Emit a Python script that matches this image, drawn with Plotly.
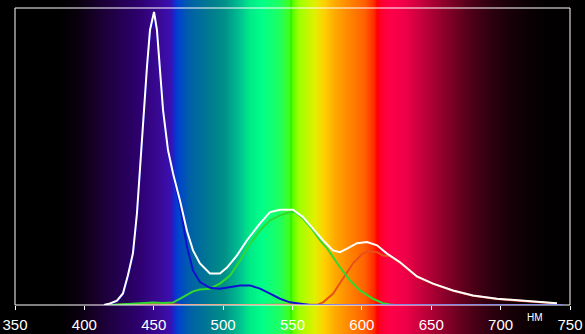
import base64
import struct
import zlib

import plotly.graph_objects as go

# ---------------- data ----------------
white_nm = [414.1, 418.5, 423.5, 427.8, 431.4, 435.0, 437.9, 440.1, 442.3, 445.1, 447.3, 450.2,
            452.3, 454.5, 456.7, 460.3, 463.9, 468.9, 474.0, 478.3, 483.3, 490.5, 497.7, 502.8,
            510.0, 517.2, 526.6, 533.8, 541.0, 550.4, 557.6, 564.8, 572.0, 579.2, 584.2, 589.3,
            596.5, 603.7, 610.9, 618.1, 627.5, 639.7, 651.3, 665.7, 680.1, 697.4, 714.0, 728.4, 740.6]
white_val = [0.000, 0.005, 0.015, 0.039, 0.100, 0.174, 0.309, 0.464, 0.632, 0.801, 0.926, 0.987,
             0.926, 0.801, 0.656, 0.521, 0.443, 0.352, 0.248, 0.184, 0.140, 0.106, 0.106, 0.126,
             0.167, 0.218, 0.275, 0.313, 0.321, 0.321, 0.296, 0.257, 0.218, 0.184, 0.178, 0.190,
             0.208, 0.212, 0.201, 0.173, 0.144, 0.096, 0.072, 0.049, 0.032, 0.021, 0.015, 0.009, 0.006]

blue_nm = [414.1, 418.5, 423.5, 427.8, 431.4, 435.0, 437.9, 440.1, 442.3, 445.1, 447.3, 450.2,
           452.3, 454.5, 456.7, 460.3, 463.9, 468.9, 474.0, 478.3, 483.3, 490.5, 497.7, 505.0,
           512.2, 519.4, 526.6, 533.8, 541.0, 548.2, 555.4, 562.6, 600.0, 650.0, 700.0, 745.0]
blue_val = [0.000, 0.004, 0.012, 0.035, 0.094, 0.167, 0.300, 0.455, 0.622, 0.790, 0.914, 0.975,
            0.914, 0.790, 0.647, 0.512, 0.434, 0.336, 0.195, 0.116, 0.077, 0.058, 0.055, 0.060,
            0.066, 0.066, 0.055, 0.038, 0.021, 0.009, 0.004, 0.000, 0.000, 0.000, 0.000, 0.000]

green_nm = [418.5, 432.9, 443.7, 449.5, 456.7, 463.9, 470.4, 478.3, 483.3, 490.5, 497.7, 505.0,
            512.2, 519.4, 526.6, 533.8, 541.0, 548.2, 551.8, 557.6, 564.8, 569.8, 574.9, 579.2,
            584.2, 591.4, 598.6, 608.0, 615.2, 620.3, 623.9]
green_val = [0.000, 0.003, 0.007, 0.008, 0.007, 0.008, 0.025, 0.046, 0.052, 0.055, 0.072, 0.099,
             0.150, 0.206, 0.251, 0.285, 0.302, 0.313, 0.313, 0.291, 0.251, 0.218, 0.191, 0.160,
             0.127, 0.083, 0.049, 0.021, 0.006, 0.002, 0.000]

red_nm = [418.5, 440.0, 450.0, 459.5, 469.0, 520.0, 568.4, 572.0, 579.2, 586.4, 593.6, 600.8,
          605.9, 610.9, 615.2, 620.0, 627.5, 639.7, 651.3, 665.7, 680.1, 697.4, 714.0, 728.4, 740.6]
red_val = [0.000, 0.003, 0.005, 0.003, 0.001, 0.000, 0.002, 0.009, 0.038, 0.089, 0.140, 0.174,
           0.181, 0.178, 0.167, 0.165, 0.142, 0.095, 0.071, 0.048, 0.031, 0.020, 0.014, 0.008, 0.005]

tick_vals = [350, 400, 450, 500, 550, 600, 650, 700, 750]
tick_text = ["350", "400", "450", "500", "550", "600", "650", "700", "750"]
unit_label = "НМ"

# ---------------- style / layout ----------------
W, H = 585, 334
ML, MR, MT, MB = 15, 15, 8, 29
PW, PH = W - ML - MR, H - MT - MB
X0, X1 = 350, 750

# spectrum background colour stops (wavelength, colour)
stops = [
    (300, "#000000"), (380, "#000000"), (395, "#08000c"), (411, "#1a0030"), (440, "#2e0070"),
    (455, "#3a0a98"), (462, "#3a10b0"), (464, "#2020c8"), (467, "#0040d0"), (476, "#0060a8"),
    (490, "#007a90"), (501, "#009088"), (512, "#00c090"), (519, "#00e888"), (528, "#00ff88"),
    (541, "#20ff60"), (547.5, "#40ff20"), (549, "#30f000"), (550.5, "#60ff00"), (555, "#a0ff00"),
    (566, "#e0f000"), (573, "#ffd000"), (581, "#ffa800"), (588, "#ff9000"), (602, "#ff6000"),
    (609, "#ff2800"), (611, "#ff0000"), (614, "#ff0030"), (620, "#ff0048"), (631, "#f00048"),
    (638, "#d80040"), (649, "#b00035"), (663, "#800028"), (678, "#500018"), (692, "#300010"),
    (707, "#180008"), (721, "#0a0004"), (736, "#020001"), (800, "#000000"),
]


def hex2rgb(h):
    h = h.lstrip("#")
    return tuple(int(h[i:i + 2], 16) for i in (0, 2, 4))


def colour_at(nm):
    for (a, ca), (b, cb) in zip(stops[:-1], stops[1:]):
        if a <= nm <= b:
            t = (nm - a) / (b - a) if b > a else 0
            c1, c2 = hex2rgb(ca), hex2rgb(cb)
            return tuple(int(round(c1[i] + (c2[i] - c1[i]) * t)) for i in range(3))
    return (0, 0, 0)


def png_uri(rows):
    h = len(rows)
    w = len(rows[0])
    raw = b"".join(b"\x00" + bytes([c for px in row for c in px]) for row in rows)

    def chunk(t, d):
        c = struct.pack(">I", len(d)) + t + d
        return c + struct.pack(">I", zlib.crc32(t + d) & 0xFFFFFFFF)

    png = (b"\x89PNG\r\n\x1a\n"
           + chunk(b"IHDR", struct.pack(">IIBBBBB", w, h, 8, 2, 0, 0, 0))
           + chunk(b"IDAT", zlib.compress(raw))
           + chunk(b"IEND", b""))
    return "data:image/png;base64," + base64.b64encode(png).decode()


row = [colour_at(X0 + (col + 0.5 - ML) * (X1 - X0) / PW) for col in range(W)]
bg = png_uri([row, row])

fig = go.Figure()
fig.add_trace(go.Scatter(x=red_nm, y=red_val, mode="lines",
                         line=dict(color="#e8501a", width=2), hoverinfo="skip"))
fig.add_trace(go.Scatter(x=green_nm, y=green_val, mode="lines",
                         line=dict(color="#30d830", width=2), hoverinfo="skip"))
fig.add_trace(go.Scatter(x=blue_nm, y=blue_val, mode="lines",
                         line=dict(color="#1010d0", width=2), hoverinfo="skip"))
fig.add_trace(go.Scatter(x=white_nm, y=white_val, mode="lines",
                         line=dict(color="#ffffff", width=2), hoverinfo="skip"))

fig.add_layout_image(dict(
    source=bg, xref="paper", yref="paper",
    x=-ML / PW, y=1 + MT / PH, sizex=W / PW, sizey=H / PH,
    xanchor="left", yanchor="top", sizing="stretch", layer="below",
))

# plot frame
fig.add_shape(type="rect", xref="paper", yref="paper", x0=0, x1=1, y0=0, y1=1,
              line=dict(color="white", width=1), fillcolor="rgba(0,0,0,0)", layer="above")

fig.add_annotation(text=unit_label, xref="paper", yref="paper",
                   x=(535 - ML) / PW, y=-(317 - (MT + PH)) / PH,
                   showarrow=False, xanchor="center", yanchor="middle",
                   font=dict(family="Liberation Sans, Arial", size=10, color="white"))

fig.update_layout(
    width=W, height=H,
    margin=dict(l=ML, r=MR, t=MT, b=MB),
    paper_bgcolor="black", plot_bgcolor="rgba(0,0,0,0)",
    showlegend=False,
    font=dict(family="Liberation Sans Narrow, Liberation Sans, Arial", size=15, color="white"),
)
fig.update_xaxes(range=[X0, X1], tickvals=tick_vals, ticktext=tick_text, automargin=False,
                 showgrid=False, zeroline=False, showline=False,
                 ticks="outside", ticklen=4,
                 tickcolor="white", tickwidth=1, ticklabelstandoff=2)
fig.update_yaxes(range=[0, 1], automargin=False, showgrid=False, zeroline=False,
                 showline=False, showticklabels=False, ticks="")

fig.write_html("out.html")
